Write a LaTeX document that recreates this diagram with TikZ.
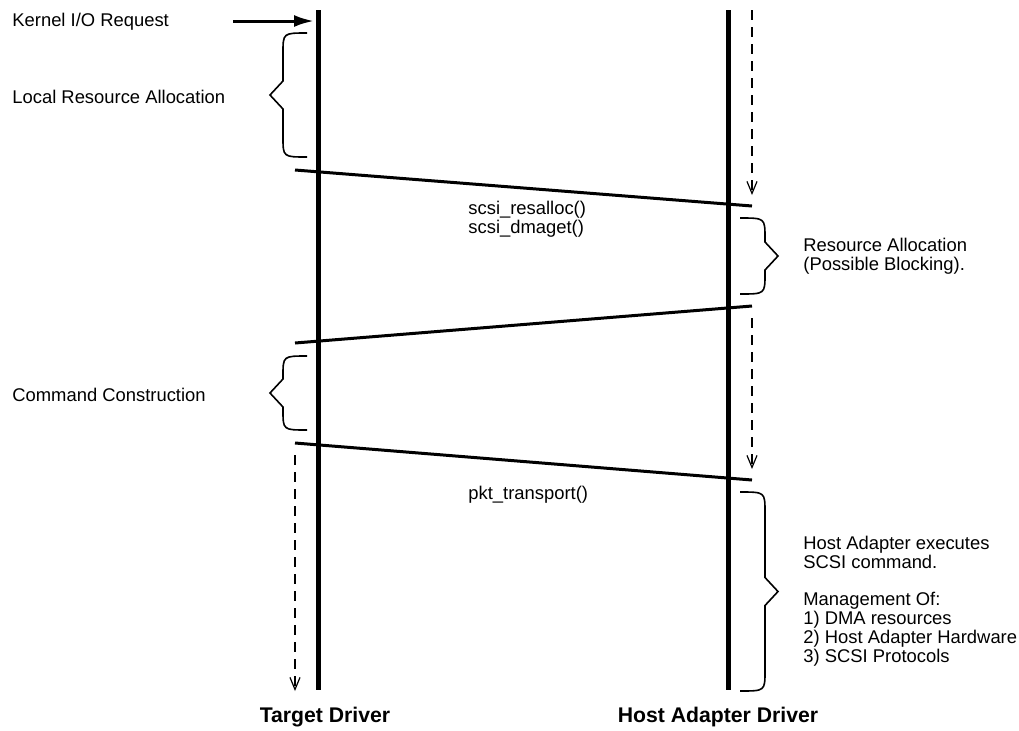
\documentclass[tikz,border=0pt]{standalone}
\usepackage{fontspec}
\setmainfont{Liberation Sans}
\usetikzlibrary{arrows.meta,positioning}

\tikzset{
  lifeline/.style={line width=2.5pt},
  msg/.style={line width=1.5pt},
  bracepath/.style={line width=0.8pt, line join=miter},
  waitline/.style={line width=0.6pt, dash pattern=on 5pt off 3.5pt, -{Straight Barb[length=6pt,width=5pt]}},
  note/.style={font=\fontsize{9.2}{9.4}\selectfont, align=left, anchor=west, inner sep=0pt},
  drvtitle/.style={font=\fontsize{10.6}{12}\selectfont\bfseries, inner sep=0pt},
}

% open x, spine x, tip x, top y, bottom y
\newcommand{\sidebrace}[5]{%
  \draw[bracepath] (#1,#4) .. controls (#2,#4) .. (#2,{#4+20})
    -- (#2,{(#4+#5)/2-14}) -- (#3,{(#4+#5)/2}) -- (#2,{(#4+#5)/2+14})
    -- (#2,{#5-20}) .. controls (#2,#5) .. (#1,#5);}

\begin{document}
\begin{tikzpicture}[x=0.5pt, y=-0.5pt]
\useasboundingbox (0,0) rectangle (1019,730);

% lifelines
\coordinate (tdtop) at (318,10);
\coordinate (tdbot) at (318,690);
\coordinate (hatop) at (728,10);
\coordinate (habot) at (728,690);
\draw[lifeline] (tdtop) -- (tdbot);
\draw[lifeline] (hatop) -- (habot);

% kernel request
\node[note] (kreq) at (12,22) {Kernel I/O Request};
\coordinate (kin) at (233,21);
\coordinate (kout) at (314,21);
\draw[msg, -{Latex[length=10pt,width=6pt]}] (kin) -- (kout);

% local resource allocation
\sidebrace{307}{283}{270}{33}{157}
\node[note] (lres) at (12,97) {Local Resource Allocation};

% first call
\coordinate (m1a) at (295,170);
\coordinate (m1b) at (752,206);
\draw[msg] (m1a) -- (m1b);
\node[note] (rcall) at (468,219) {scsi\_resalloc()\\scsi\_dmaget()};
\coordinate (w1a) at (752,10);
\coordinate (w1b) at (752,195);
\draw[waitline] (w1a) -- (w1b);

% resource allocation
\sidebrace{740}{765}{778}{218}{294}
\node[note] (hres) at (803,256) {Resource Allocation\\(Possible Blocking).};

% return
\coordinate (m2a) at (295,343);
\coordinate (m2b) at (752,306);
\draw[msg] (m2a) -- (m2b);
\coordinate (w2a) at (752,318);
\coordinate (w2b) at (752,469);
\draw[waitline] (w2a) -- (w2b);

% command construction
\sidebrace{307}{283}{270}{356}{430}
\node[note] (ccon) at (12,395) {Command Construction};

% transport
\coordinate (m3a) at (295,443);
\coordinate (m3b) at (752,480);
\draw[msg] (m3a) -- (m3b);
\node[note] (pcall) at (468,495) {pkt\_transport()};
\coordinate (w3a) at (295,455);
\coordinate (w3b) at (295,691);
\draw[waitline] (w3a) -- (w3b);

% host adapter execution
\sidebrace{740}{765}{778}{492}{691}
\node[note] (hexe) at (803,601) {Host Adapter executes\\SCSI command.\\[9.4pt]Management Of:\\1) DMA resources\\2) Host Adapter Hardware\\3) SCSI Protocols};

% driver names
\node[drvtitle] (tdname) at (325,717) {Target Driver};
\node[drvtitle] (haname) at (718,717) {Host Adapter Driver};
\end{tikzpicture}
\end{document}
